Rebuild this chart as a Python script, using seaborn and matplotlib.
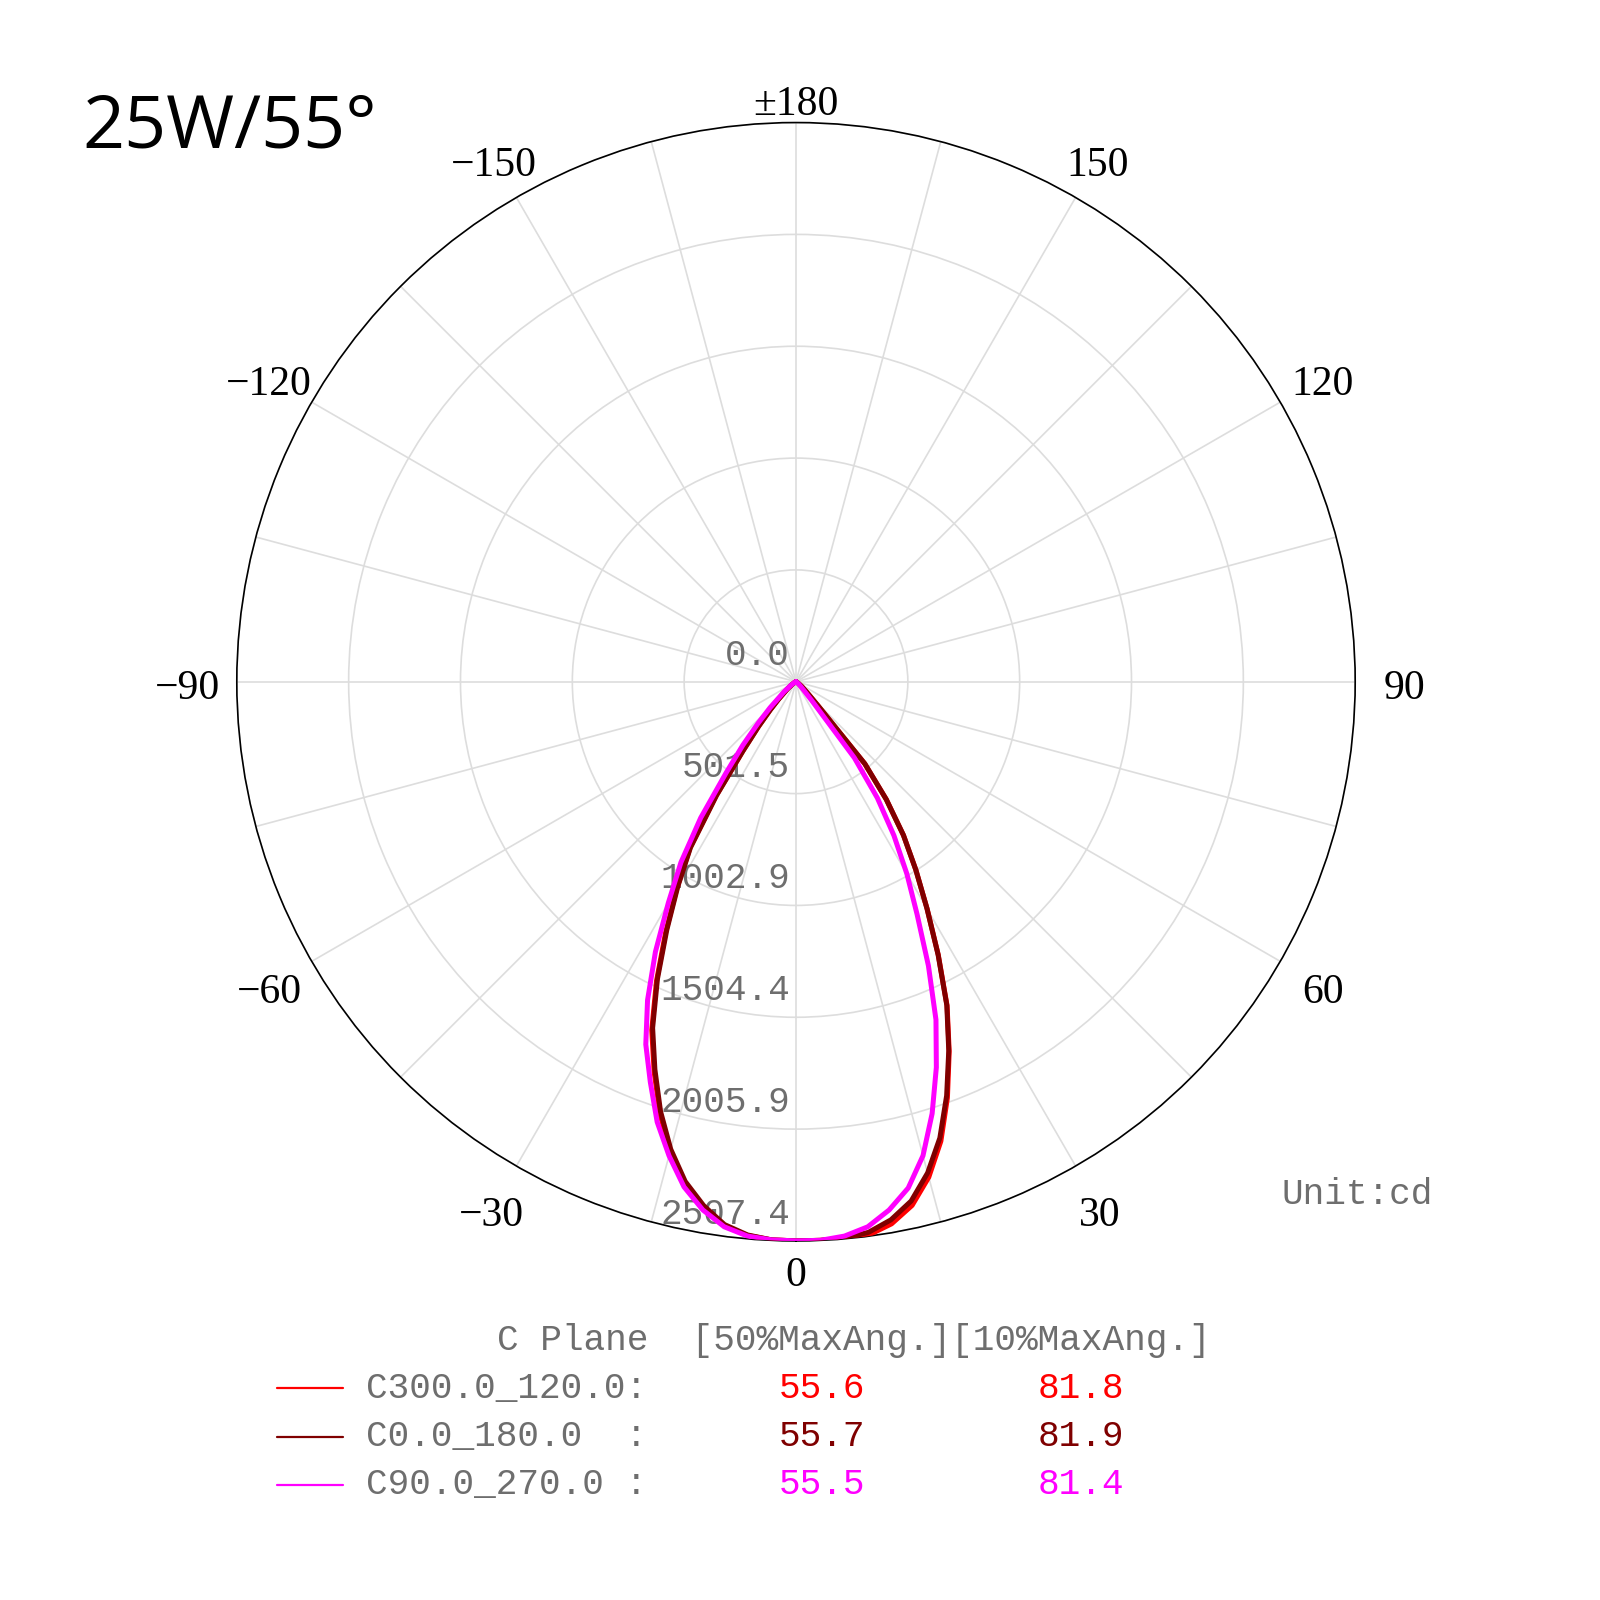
import numpy as np
import pandas as pd
import seaborn as sns
import matplotlib.pyplot as plt
from matplotlib.lines import Line2D

# luminous intensity (cd), one list per half-plane
ANGLES = [0, 2.5, 5, 7.5, 10, 12.5, 15, 17.5, 20, 22.5, 25, 27.5, 30, 32.5,
          35, 37.5, 40, 42.5, 45, 50, 55, 60, 70, 80, 90]

C300_left = [2507, 2505, 2492, 2460, 2392, 2304, 2180, 2030, 1860, 1690, 1480, 1265,
             1068, 886, 625, 393, 262, 172, 111, 50, 22, 10, 3, 1, 0]
C300_right = [2507, 2507, 2507, 2502, 2468, 2405, 2300, 2160, 1985, 1795, 1603, 1382,
              1176, 1000, 840, 665, 480, 150, 80, 35, 15, 7, 2, 1, 0]
C0_left = [2507, 2505, 2490, 2455, 2385, 2295, 2170, 2020, 1850, 1680, 1470, 1255,
           1060, 880, 620, 390, 260, 170, 110, 50, 22, 10, 3, 1, 0]
C0_right = [2507, 2507, 2505, 2490, 2450, 2385, 2280, 2145, 1975, 1790, 1600, 1380,
            1175, 1000, 840, 665, 480, 150, 80, 35, 15, 7, 2, 1, 0]
C90_left = [2507, 2505, 2495, 2465, 2405, 2320, 2200, 2070, 1910, 1760, 1575, 1365,
            1145, 960, 745, 515, 370, 250, 165, 70, 30, 12, 3, 1, 0]
C90_right = [2507, 2507, 2495, 2465, 2405, 2325, 2200, 2030, 1840, 1640, 1405, 1176,
             994, 817, 636, 430, 110, 50, 30, 15, 8, 4, 2, 1, 0]

PLANES = ['C300.0_120.0', 'C0.0_180.0', 'C90.0_270.0']
PLANE_LABELS = ['C300.0_120.0:', 'C0.0_180.0  :', 'C90.0_270.0 :']
COLORS = ['#ff0000', '#7f0000', '#ff00ff']
HALF_MAX = ['55.6', '55.7', '55.5']
TENTH_MAX = ['81.8', '81.9', '81.4']

RINGS = [0.0, 501.5, 1002.9, 1504.4, 2005.9, 2507.4]
RING_LABELS = ['0.0', '501.5', '1002.9', '1504.4', '2005.9', '2507.4']
TICK_ANGLES = [0, 30, 60, 90, 120, 150, 180, 210, 240, 270, 300, 330]
TICK_LABELS = ['0', '30', '60', '90', '120', '150', '\u00b1180',
               '\u2212150', '\u2212120', '\u221290', '\u221260', '\u221230']

GRAY = '#6e6e6e'
MONO = 'Liberation Mono'

sns.set_theme(style='white')
plt.rcParams['font.family'] = ['Liberation Serif', 'DejaVu Sans']

rows = []
for name, left, right in zip(PLANES, [C300_left, C0_left, C90_left],
                             [C300_right, C0_right, C90_right]):
    for a, v in zip(ANGLES[::-1], left[::-1]):
        rows.append((name, np.deg2rad(-a), v))
    for a, v in zip(ANGLES[1:], right[1:]):
        rows.append((name, np.deg2rad(a), v))
df = pd.DataFrame(rows, columns=['plane', 'theta', 'cd'])

fig = plt.figure(figsize=(16, 16), dpi=100)
ax = fig.add_axes([0.148, 0.2244, 0.699, 0.699], projection='polar')
ax.set_theta_zero_location('S')
ax.set_theta_direction(1)

sns.lineplot(data=df, x='theta', y='cd', hue='plane', hue_order=PLANES,
             palette=dict(zip(PLANES, COLORS)), estimator=None, sort=False,
             lw=3.6, legend=False, ax=ax, zorder=5)

rmax = RINGS[-1]
ax.set_ylim(0, rmax)
ax.set_yticks(RINGS)
ax.set_yticklabels([])
ax.set_xticks(np.deg2rad(np.arange(0, 360, 15)))
ax.set_xticklabels([])
ax.set_xlabel('')
ax.set_ylabel('')
ax.tick_params(length=0)
ax.grid(True, color='#dddddd', lw=1.2)
ax.spines['polar'].set_color('black')
ax.spines['polar'].set_linewidth(1.2)

for deg, lab in zip(TICK_ANGLES, TICK_LABELS):
    f = 1.088
    if deg == 0:
        f = 1.05
    elif deg == 180:
        f = 1.045
    elif deg in (150, 210):
        f = 1.08
    ax.annotate(lab, xy=(np.deg2rad(deg), rmax * f), xytext=(0, -7),
                textcoords='offset pixels', ha='center', va='center',
                fontsize=30, family='Liberation Serif', color='black',
                annotation_clip=False)

for r, lab in zip(RINGS, RING_LABELS):
    ax.annotate(lab, xy=(0, r), xytext=(-6, 9), textcoords='offset pixels',
                ha='right', va='bottom', fontsize=26, family=MONO,
                color=GRAY, zorder=1)

# title and side notes
fig.text(82 / 1600, 1 - 148 / 1600, '25W/55\u00b0', fontsize=53,
         family='Open Sans', color='black', ha='left', va='baseline')
fig.text(1282 / 1600, 1 - 1194 / 1600, 'Unit:cd', fontsize=26, family=MONO,
         color=GRAY, ha='left', va='center')

# legend table
fig.text(497 / 1600, 1 - 1340 / 1600, 'C Plane  [50%MaxAng.][10%MaxAng.]',
         fontsize=26, family=MONO, color=GRAY, ha='left', va='center')
row_y = [1388, 1437, 1485]
for y, lab, c, v1, v2 in zip(row_y, PLANE_LABELS, COLORS, HALF_MAX, TENTH_MAX):
    yy = 1 - y / 1600
    fig.add_artist(Line2D([277 / 1600, 343 / 1600], [yy, yy], color=c, lw=1.6,
                          transform=fig.transFigure))
    fig.text(366 / 1600, yy, lab, fontsize=26, family=MONO, color=GRAY,
             ha='left', va='center')
    fig.text(779 / 1600, yy, v1, fontsize=26, family=MONO, color=c,
             ha='left', va='center')
    fig.text(1038 / 1600, yy, v2, fontsize=26, family=MONO, color=c,
             ha='left', va='center')

fig.savefig('out.png', dpi=100)
